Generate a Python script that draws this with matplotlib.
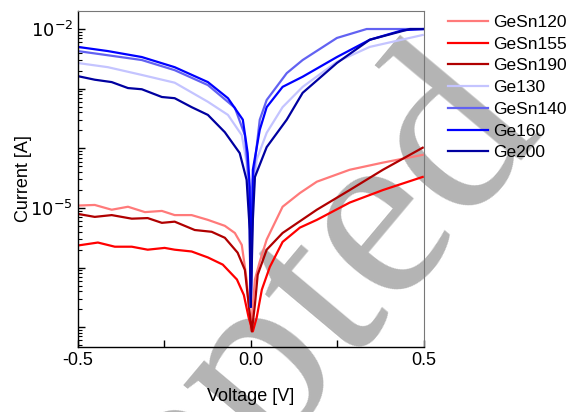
import numpy as np
import matplotlib
matplotlib.use("Agg")
import matplotlib.pyplot as plt
from matplotlib.ticker import LogLocator, FuncFormatter, MultipleLocator, NullFormatter

plt.rcParams['font.family'] = ['Liberation Sans', 'DejaVu Sans']

# voltage [V] and log10(current [A])
v_ge160 = [-0.500, -0.413, -0.315, -0.220, -0.124, -0.066, -0.023, -0.009, -0.003, 0.000,
           0.006, 0.026, 0.046, 0.092, 0.150, 0.249, 0.344, 0.439, 0.500]
i_ge160 = [-2.30, -2.37, -2.47, -2.64, -2.89, -3.16, -3.52, -4.08, -4.65, -6.66,
           -4.36, -3.69, -3.31, -2.97, -2.80, -2.47, -2.18, -2.02, -2.00]

v_gesn140 = [-0.500, -0.413, -0.315, -0.220, -0.124, -0.046, -0.017, -0.006, 0.000,
             0.006, 0.026, 0.046, 0.104, 0.150, 0.249, 0.335, 0.500]
i_gesn140 = [-2.37, -2.44, -2.52, -2.69, -2.94, -3.32, -3.78, -4.53, -6.66,
             -4.53, -3.52, -3.19, -2.74, -2.52, -2.15, -2.00, -2.00]

v_ge130 = [-0.500, -0.413, -0.315, -0.220, -0.124, -0.066, -0.026, -0.012, -0.003, 0.000,
           0.006, 0.017, 0.046, 0.092, 0.150, 0.249, 0.344, 0.497]
i_ge130 = [-2.57, -2.64, -2.77, -2.90, -3.22, -3.44, -3.78, -4.24, -5.20, -6.66,
           -4.86, -4.19, -3.74, -3.31, -2.97, -2.55, -2.30, -2.10]

v_ge200 = [-0.500, -0.451, -0.402, -0.355, -0.315, -0.257, -0.220, -0.171, -0.124, -0.075,
           -0.032, -0.012, -0.003, 0.000, 0.006, 0.012, 0.046, 0.104, 0.150, 0.249,
           0.344, 0.460, 0.500]
i_ge200 = [-2.79, -2.85, -2.89, -2.99, -3.01, -3.14, -3.16, -3.31, -3.44, -3.73,
           -4.08, -4.53, -5.37, -6.66, -5.20, -4.48, -3.98, -3.52, -3.07, -2.57,
           -2.18, -2.00, -2.00]

v_gesn120 = [-0.500, -0.451, -0.402, -0.355, -0.306, -0.257, -0.220, -0.171, -0.124, -0.075,
             -0.046, -0.026, -0.012, 0.000, 0.012, 0.026, 0.046, 0.092, 0.142, 0.191,
             0.286, 0.382, 0.497]
i_gesn120 = [-4.96, -4.95, -5.03, -4.98, -5.07, -5.05, -5.12, -5.12, -5.20, -5.30,
             -5.42, -5.62, -6.20, -7.04, -6.20, -5.90, -5.53, -4.98, -4.75, -4.56,
             -4.36, -4.24, -4.11]

v_gesn190 = [-0.500, -0.451, -0.402, -0.344, -0.298, -0.257, -0.220, -0.162, -0.113, -0.075,
             -0.038, -0.017, -0.006, 0.003, 0.012, 0.020, 0.046, 0.092, 0.191, 0.286,
             0.382, 0.497]
i_gesn190 = [-5.10, -5.15, -5.12, -5.18, -5.17, -5.25, -5.23, -5.37, -5.40, -5.50,
             -5.75, -6.04, -6.62, -7.07, -6.62, -6.12, -5.70, -5.42, -5.03, -4.70,
             -4.36, -3.99]

v_gesn155 = [-0.500, -0.442, -0.393, -0.344, -0.298, -0.249, -0.220, -0.171, -0.124, -0.081,
             -0.040, -0.020, -0.006, 0.006, 0.017, 0.032, 0.055, 0.092, 0.142, 0.191,
             0.286, 0.382, 0.497]
i_gesn155 = [-5.63, -5.58, -5.65, -5.65, -5.70, -5.67, -5.70, -5.73, -5.83, -5.95,
             -6.20, -6.46, -6.84, -7.07, -6.84, -6.37, -5.99, -5.57, -5.33, -5.20,
             -4.91, -4.70, -4.48]

series = [
    ("GeSn120", v_gesn120, i_gesn120, "#ff7a7a"),
    ("GeSn155", v_gesn155, i_gesn155, "#ff0000"),
    ("GeSn190", v_gesn190, i_gesn190, "#b00000"),
    ("Ge130", v_ge130, i_ge130, "#c4c4ff"),
    ("GeSn140", v_gesn140, i_gesn140, "#6262f2"),
    ("Ge160", v_ge160, i_ge160, "#0000ff"),
    ("Ge200", v_ge200, i_ge200, "#0000a0"),
]

fig = plt.figure(figsize=(5.68, 4.12), dpi=100)
# watermark
fig.text(0.958, 0.682, "Accepted", fontsize=180, color="#b4b4b4", rotation=50,
         family="Liberation Serif", rotation_mode="anchor", ha="right", va="baseline",
         zorder=-1)

ax = fig.add_axes([0.137, 0.158, 0.609, 0.815])
ax.patch.set_alpha(0)

for name, v, logi, c in series:
    ax.plot(v, 10 ** np.array(logi), color=c, lw=1.6, label=name)

ax.set_yscale("log")
ax.set_xlim(-0.5, 0.5)
ax.set_ylim(10 ** -7.33, 10 ** -1.70)

ax.yaxis.set_major_locator(LogLocator(base=10, numticks=20))
ax.yaxis.set_minor_locator(LogLocator(base=10, subs=np.arange(2, 10), numticks=20))
ax.yaxis.set_major_formatter(FuncFormatter(
    lambda y, p: r"$10^{%d}$" % round(np.log10(y)) if round(np.log10(y)) in (-2, -5) else ""))
ax.yaxis.set_minor_formatter(NullFormatter())
ax.xaxis.set_major_locator(MultipleLocator(0.5))
ax.xaxis.set_minor_locator(MultipleLocator(0.25))
ax.xaxis.set_major_formatter(FuncFormatter(lambda x, p: "%.1f" % x))

ax.tick_params(which="both", direction="in", labelsize=13, top=False, right=False)
ax.tick_params(which="major", length=5, width=1)
ax.tick_params(axis="y", which="minor", length=3, width=0.8)
ax.tick_params(axis="x", which="minor", length=5, width=1)
for s in ("top", "right"):
    ax.spines[s].set_color("#777777")
    ax.spines[s].set_linewidth(0.8)
for s in ("left", "bottom"):
    ax.spines[s].set_linewidth(1.0)

ax.set_xlabel("Voltage [V]", fontsize=13, labelpad=14)
ax.set_ylabel("Current [A]", fontsize=13)
ax.yaxis.set_label_coords(-0.133, 0.5)

ax.legend(loc="upper left", bbox_to_anchor=(1.049, 1.01), frameon=False, fontsize=12.5,
          handlelength=2.3, handletextpad=0.3, labelspacing=0.38, borderaxespad=0)

fig.savefig("out.png", dpi=100)
